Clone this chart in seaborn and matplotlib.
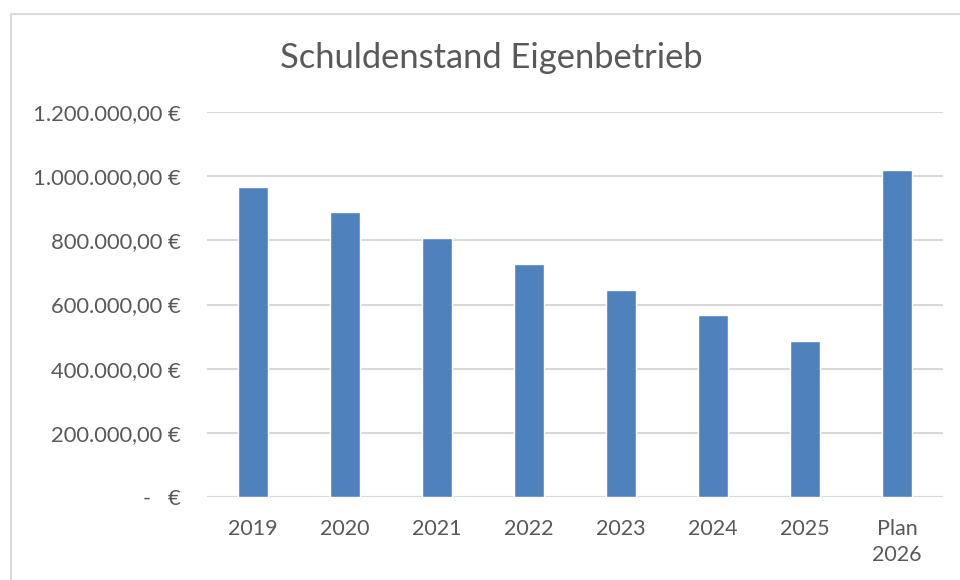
import matplotlib
matplotlib.use("Agg")
import matplotlib.pyplot as plt
import matplotlib.ticker as mticker
from matplotlib.patches import Rectangle
import pandas as pd
import seaborn as sns

# data
jahre = ["2019", "2020", "2021", "2022", "2023", "2024", "2025", "Plan\n2026"]
schuldenstand = [967000, 887000, 806000, 726000, 646000, 566000, 487000, 1018000]
y_ticks = [0, 200000, 400000, 600000, 800000, 1000000, 1200000]

BAR_COLOR = "#4f81bd"
TEXT_COLOR = "#595959"
GRID_COLOR = "#d9d9d9"

sns.set_theme(style="white")
plt.rcParams["font.family"] = ["Lato", "DejaVu Sans"]


def euro_format(value, pos=None):
    if value == 0:
        return "-   €"
    s = f"{value:,.2f}"
    s = s.replace(",", "X").replace(".", ",").replace("X", ".")
    return s + " €"


df = pd.DataFrame({"jahr": jahre, "betrag": schuldenstand})

fig = plt.figure(figsize=(9.6, 5.8), dpi=100)
ax = fig.add_axes([207 / 960, 83 / 580, 736 / 960, 385 / 580])

sns.barplot(data=df, x="jahr", y="betrag", color=BAR_COLOR, saturation=1,
            width=0.32, ax=ax)

ax.set_ylim(0, 1200000)
ax.set_xlim(-0.5, len(jahre) - 0.5)
ax.set_yticks(y_ticks)
ax.yaxis.set_major_formatter(mticker.FuncFormatter(euro_format))
ax.yaxis.grid(True, color=GRID_COLOR, linewidth=1.5)
ax.set_axisbelow(True)
for side in ["top", "right", "left", "bottom"]:
    ax.spines[side].set_visible(False)
ax.axhline(0, color=GRID_COLOR, linewidth=1.5, zorder=0)

ax.tick_params(axis="y", length=0, pad=19, labelsize=15.8, labelcolor=TEXT_COLOR)
ax.tick_params(axis="x", length=0, pad=16, labelsize=15.5, labelcolor=TEXT_COLOR)
for lbl in ax.get_xticklabels():
    lbl.set_linespacing(1.35)
ax.set_xlabel("")
ax.set_ylabel("")

fig.text(491 / 960, 1 - 58 / 580, "Schuldenstand Eigenbetrieb", ha="center",
         va="center", fontsize=24.8, color=TEXT_COLOR)

# chart border like the Excel chart frame
fig.patches.append(Rectangle((11 / 960, -0.05), 1.0, 1 - 14 / 580 + 0.05,
                             transform=fig.transFigure, fill=False,
                             edgecolor="#d9d9d9", linewidth=1.5))

fig.savefig("out.png", dpi=100)
